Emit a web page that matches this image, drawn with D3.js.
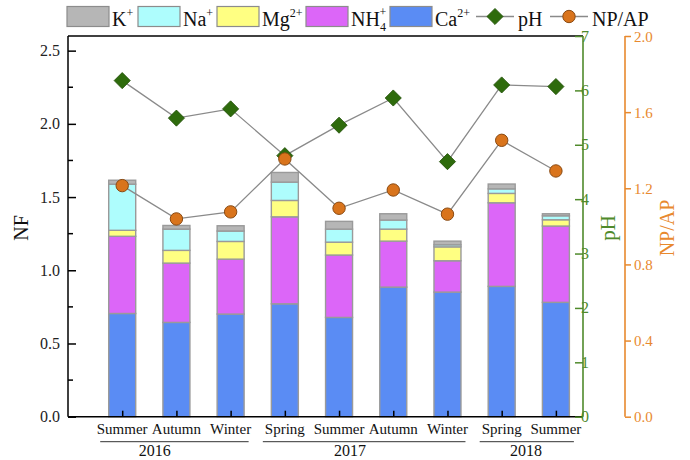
<!DOCTYPE html>
<html>
<head>
<meta charset="utf-8">
<script src="https://cdn.jsdelivr.net/npm/d3@7"></script>
<style>
  html, body { margin: 0; padding: 0; background: #fff; }
  svg { display: block; }
  svg text { font-family: "Liberation Serif", "Times New Roman", serif; }
</style>
</head>
<body>
<svg id="chart" width="690" height="460"></svg>
<script>
// Sampling periods
const seasons = ["Summer", "Autumn", "Winter", "Spring", "Summer", "Autumn", "Winter", "Spring", "Summer"];
const yearLabels = ["2016", "2017", "2018"];
const yearFirst = [0, 3, 7];   // first season index of each year
const yearLast = [2, 6, 8];    // last season index of each year

// Neutralization factors by cation (stacked, bottom to top)
const Ca = [0.705, 0.644, 0.701, 0.771, 0.678, 0.885, 0.851, 0.890, 0.781];
const NH4 = [0.527, 0.405, 0.375, 0.594, 0.426, 0.314, 0.214, 0.571, 0.521];
const Mg = [0.041, 0.087, 0.121, 0.112, 0.088, 0.082, 0.095, 0.064, 0.043];
const Na = [0.315, 0.145, 0.071, 0.125, 0.089, 0.062, 0.014, 0.031, 0.027];
const K = [0.027, 0.025, 0.036, 0.066, 0.053, 0.043, 0.025, 0.033, 0.014];

// Line series
const pH = [6.18, 5.49, 5.66, 4.80, 5.36, 5.86, 4.69, 6.10, 6.07];
const NPAP = [1.214, 1.039, 1.076, 1.354, 1.095, 1.191, 1.064, 1.452, 1.291];

// Axis ticks
const nfTicks = [0, 0.5, 1.0, 1.5, 2.0, 2.5];
const nfMinor = [0.25, 0.75, 1.25, 1.75, 2.25];
const pHTicks = [0, 1, 2, 3, 4, 5, 6, 7];
const npapTicks = [0, 0.4, 0.8, 1.2, 1.6, 2.0];

const plotLeft = 68, plotRight = 583, plotTop = 36, plotBottom = 416.7;
const svg = d3.select("#chart");

const x = d3.scaleLinear().domain([0, 9.5]).range([plotLeft, plotRight]);
const y = d3.scaleLinear().domain([0, 2.6]).range([plotBottom, plotTop]);
const yPH = d3.scaleLinear().domain([0, 7]).range([plotBottom, plotTop]);
const yNP = d3.scaleLinear().domain([0, 2.0]).range([plotBottom, plotTop]);

const green = "#4f8a2b";
const orange = "#e8892e", orangeDot = "#d9741c";

const layers = [
  { key: "Ca", values: Ca, color: "#5a8cf4" },
  { key: "NH4", values: NH4, color: "#dc66f8" },
  { key: "Mg", values: Mg, color: "#ffff82" },
  { key: "Na", values: Na, color: "#aefdfd" },
  { key: "K", values: K, color: "#b6b6b6" }
];

const table = seasons.map((s, i) => {
  const row = { i };
  layers.forEach(l => row[l.key] = l.values[i]);
  return row;
});
const stacked = d3.stack().keys(layers.map(l => l.key))(table);

const barW = 27;
const barG = svg.append("g");
stacked.forEach((series, li) => {
  barG.selectAll(null).data(series).enter().append("rect")
    .attr("x", d => x(d.data.i + 1) - barW / 2)
    .attr("y", d => y(d[1]))
    .attr("width", barW)
    .attr("height", d => y(d[0]) - y(d[1]))
    .attr("fill", layers[li].color)
    .attr("stroke", "#9a9a9a")
    .attr("stroke-width", 1.4);
});

// Frame: top edge
svg.append("line").attr("x1", plotLeft).attr("x2", plotRight).attr("y1", plotTop).attr("y2", plotTop)
  .attr("stroke", "#000").attr("stroke-width", 1.5);

// Axis groups keep the page's serif face instead of d3's default
function plainAxisGroup(g) {
  g.attr("font-family", null).attr("font-size", null);
  g.select(".domain").remove();
}

// Left NF axis (ticks inward)
const gL = svg.append("g").attr("transform", `translate(${plotLeft},0)`);
gL.call(d3.axisRight(y).tickValues(nfTicks).tickSize(8).tickFormat(""));
plainAxisGroup(gL);
gL.append("line").attr("y1", plotTop).attr("y2", plotBottom).attr("stroke", "#000").attr("stroke-width", 1.5);
gL.selectAll(".tick line").attr("stroke", "#000").attr("stroke-width", 1.5);
gL.selectAll(null).data(nfMinor).enter().append("line")
  .attr("x1", 0).attr("x2", 5).attr("y1", d => y(d)).attr("y2", d => y(d))
  .attr("stroke", "#000").attr("stroke-width", 1.5);
gL.selectAll(null).data(nfTicks).enter().append("text")
  .attr("x", -8).attr("y", d => y(d) + 5.5)
  .attr("text-anchor", "end").attr("font-size", 16).attr("fill", "#222")
  .text(d => d3.format(".1f")(d));
svg.append("text")
  .attr("transform", `translate(28,228) rotate(-90)`)
  .attr("text-anchor", "middle").attr("font-size", 20).attr("fill", "#111")
  .text("NF");

// Bottom axis
const gB = svg.append("g").attr("transform", `translate(0,${plotBottom})`);
gB.call(d3.axisTop(x).tickValues(d3.range(1, 10)).tickSize(6).tickFormat(""));
plainAxisGroup(gB);
gB.append("line").attr("x1", plotLeft).attr("x2", plotRight).attr("stroke", "#000").attr("stroke-width", 1.5);
gB.selectAll(".tick line").attr("stroke", "#000").attr("stroke-width", 1.5);
gB.selectAll(null).data(seasons).enter().append("text")
  .attr("x", (d, i) => x(i + 1)).attr("y", 17)
  .attr("text-anchor", "middle").attr("font-size", 15).attr("fill", "#111")
  .text(d => d);

// Year grouping lines and labels
const yearCenter = [1.6, 5.2, 8.45];
yearLabels.forEach((yr, k) => {
  gB.append("line")
    .attr("x1", x(yearFirst[k] + 1) - 22).attr("x2", x(yearLast[k] + 1) + 18)
    .attr("y1", 25).attr("y2", 25)
    .attr("stroke", "#333").attr("stroke-width", 1);
  gB.append("text")
    .attr("x", x(yearCenter[k])).attr("y", 39)
    .attr("text-anchor", "middle").attr("font-size", 16).attr("fill", "#111")
    .text(yr);
});

// pH axis (right border, ticks inward)
const gP = svg.append("g").attr("transform", `translate(${plotRight},0)`);
gP.call(d3.axisLeft(yPH).tickValues(pHTicks).tickSize(8).tickFormat(""));
plainAxisGroup(gP);
gP.append("line").attr("y1", plotTop).attr("y2", plotBottom).attr("stroke", green).attr("stroke-width", 1.6);
gP.selectAll(".tick line").attr("stroke", green).attr("stroke-width", 1.5);
gP.selectAll(null).data(pHTicks).enter().append("text")
  .attr("x", 6).attr("y", d => yPH(d) + 5.5)
  .attr("font-size", 16).attr("fill", green)
  .text(d => d);
svg.append("text")
  .attr("transform", `translate(615,228) rotate(-90)`)
  .attr("text-anchor", "middle").attr("font-size", 21).attr("fill", green)
  .text("pH");

// NP/AP axis (ticks outward)
const npX = 625;
const gN = svg.append("g").attr("transform", `translate(${npX},0)`);
gN.call(d3.axisRight(yNP).tickValues(npapTicks).tickSize(6).tickFormat(""));
plainAxisGroup(gN);
gN.append("line").attr("y1", plotTop).attr("y2", plotBottom).attr("stroke", orange).attr("stroke-width", 1.6);
gN.selectAll(".tick line").attr("stroke", orange).attr("stroke-width", 1.5);
gN.selectAll(null).data(npapTicks).enter().append("text")
  .attr("x", 9).attr("y", d => yNP(d) + 5.5)
  .attr("font-size", 15).attr("fill", orange)
  .text(d => d3.format(".1f")(d));
svg.append("text")
  .attr("transform", `translate(674,228) rotate(-90)`)
  .attr("text-anchor", "middle").attr("font-size", 20).attr("fill", orange)
  .text("NP/AP");

// Line series
const diamond = d3.symbol().type(d3.symbolSquare).size(130);
const lineG = svg.append("g");
const phLine = d3.line().x((d, i) => x(i + 1)).y(d => yPH(d));
lineG.append("path").attr("d", phLine(pH)).attr("fill", "none")
  .attr("stroke", "#8a8a8a").attr("stroke-width", 1.3);
lineG.selectAll(null).data(pH).enter().append("path")
  .attr("d", diamond)
  .attr("transform", (d, i) => `translate(${x(i + 1)},${yPH(d)}) rotate(45)`)
  .attr("fill", "#2e6b0c").attr("stroke", "#24520a").attr("stroke-width", 0.8);

const npLine = d3.line().x((d, i) => x(i + 1)).y(d => yNP(d));
lineG.append("path").attr("d", npLine(NPAP)).attr("fill", "none")
  .attr("stroke", "#8a8a8a").attr("stroke-width", 1.3);
lineG.selectAll(null).data(NPAP).enter().append("circle")
  .attr("cx", (d, i) => x(i + 1)).attr("cy", d => yNP(d)).attr("r", 6.2)
  .attr("fill", orangeDot).attr("stroke", "#8a4a12").attr("stroke-width", 1);

// Legend
const legY = 6.5;
const leg = svg.append("g").attr("font-size", 20).attr("fill", "#111");
const sw = [
  { x: 67, color: "#b6b6b6", base: "K", sup: "+" },
  { x: 138, color: "#aefdfd", base: "Na", sup: "+" },
  { x: 217, color: "#ffff82", base: "Mg", sup: "2+" },
  { x: 306, color: "#dc66f8", base: "NH", sub: "4", sup: "+" },
  { x: 390, color: "#5a8cf4", base: "Ca", sup: "2+" }
];
sw.forEach(s => {
  leg.append("rect").attr("x", s.x).attr("y", legY).attr("width", 42).attr("height", 20)
    .attr("fill", s.color).attr("stroke", "#8c8c8c").attr("stroke-width", 1.2);
  const t = leg.append("text").attr("x", s.x + 45).attr("y", legY + 19).text(s.base);
  if (s.sub) {
    t.append("tspan").attr("font-size", 12).attr("dy", 5).text(s.sub);
    t.append("tspan").attr("font-size", 12).attr("dx", -6.5).attr("dy", -15).text(s.sup);
  } else {
    t.append("tspan").attr("font-size", 12).attr("dy", -9).text(s.sup);
  }
});
// pH legend entry
leg.append("line").attr("x1", 476).attr("x2", 514).attr("y1", legY + 10).attr("y2", legY + 10)
  .attr("stroke", "#8a8a8a").attr("stroke-width", 1.3);
leg.append("path").attr("d", diamond).attr("transform", `translate(495,${legY + 10}) rotate(45)`)
  .attr("fill", "#2e6b0c").attr("stroke", "#24520a").attr("stroke-width", 0.8);
leg.append("text").attr("x", 518).attr("y", legY + 19).text("pH");
// NP/AP legend entry
leg.append("line").attr("x1", 550).attr("x2", 588).attr("y1", legY + 10).attr("y2", legY + 10)
  .attr("stroke", "#8a8a8a").attr("stroke-width", 1.3);
leg.append("circle").attr("cx", 569).attr("cy", legY + 10).attr("r", 6.2)
  .attr("fill", orangeDot).attr("stroke", "#8a4a12").attr("stroke-width", 1);
leg.append("text").attr("x", 592).attr("y", legY + 19).text("NP/AP");
</script>
</body>
</html>
